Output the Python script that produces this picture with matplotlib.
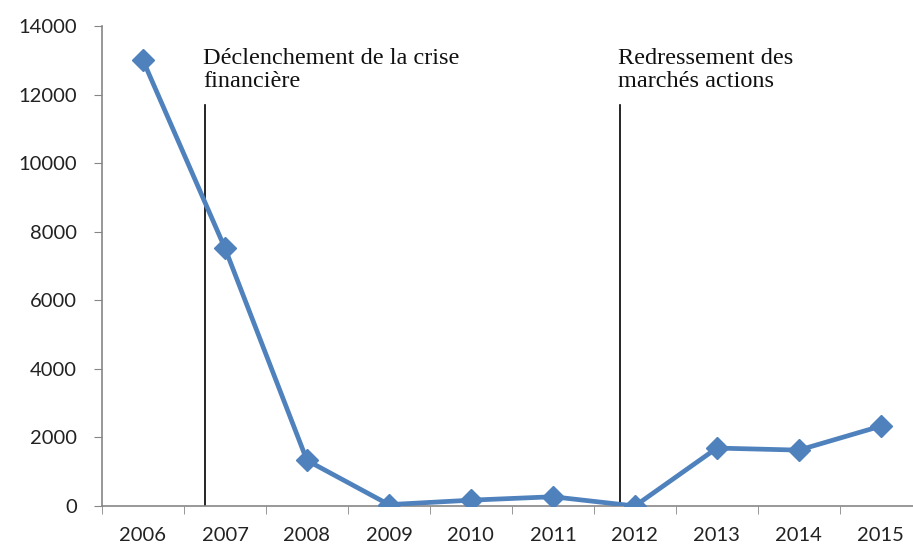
import matplotlib.pyplot as plt
import numpy as np

# ---------------- données ----------------
annees = ['2006', '2007', '2008', '2009', '2010', '2011', '2012', '2013', '2014', '2015']
valeurs = [13000, 7520, 1330, 40, 170, 270, 0, 1690, 1630, 2330]
y_ticks = [0, 2000, 4000, 6000, 8000, 10000, 12000, 14000]

# événements : (position sur l'axe des catégories, texte)
evenements = [
    (0.76, 'Déclenchement de la crise\nfinancière'),
    (5.82, 'Redressement des\nmarchés actions'),
]
hauteur_trait = 11700

bleu = '#4F81BD'
gris = '#868686'

fig = plt.figure(figsize=(9.13, 5.5), dpi=100)
ax = fig.add_axes([0.1117, 0.08, 0.898, 0.8727])

x = np.arange(len(annees))
ax.plot(x, valeurs, color=bleu, lw=3.4, marker='D', markersize=11,
        markeredgecolor=bleu, markerfacecolor=bleu, solid_joinstyle='round', zorder=3)

for pos, txt in evenements:
    ax.plot([pos, pos], [0, hauteur_trait], color='black', lw=1.2, zorder=2)
    ax.text(pos - 0.025, 12080, txt, family='Liberation Serif', fontsize=17.5,
            ha='left', va='bottom', linespacing=1.1, color='#111111')

ax.set_xlim(-0.5, len(annees) - 0.5)
ax.set_ylim(0, 14000)
ax.set_yticks(y_ticks)
ax.set_yticklabels([str(v) for v in y_ticks])

# graduations x aux limites des catégories, étiquettes au centre
ax.set_xticks(x)
ax.set_xticklabels(annees)
ax.set_xticks(np.arange(-0.5, len(annees), 1), minor=True)
ax.tick_params(axis='x', which='major', length=0, pad=15)
ax.tick_params(axis='x', which='minor', length=6, color=gris, direction='out')
ax.tick_params(axis='y', length=6, color=gris, direction='out', pad=12)

for lab in ax.get_xticklabels() + ax.get_yticklabels():
    lab.set_family('Lato')
    lab.set_fontsize(14.5)
    lab.set_color('#222222')

for s in ['top', 'right']:
    ax.spines[s].set_visible(False)
for s in ['left', 'bottom']:
    ax.spines[s].set_color(gris)
    ax.spines[s].set_linewidth(1.2)

fig.savefig('out.png', dpi=100)
